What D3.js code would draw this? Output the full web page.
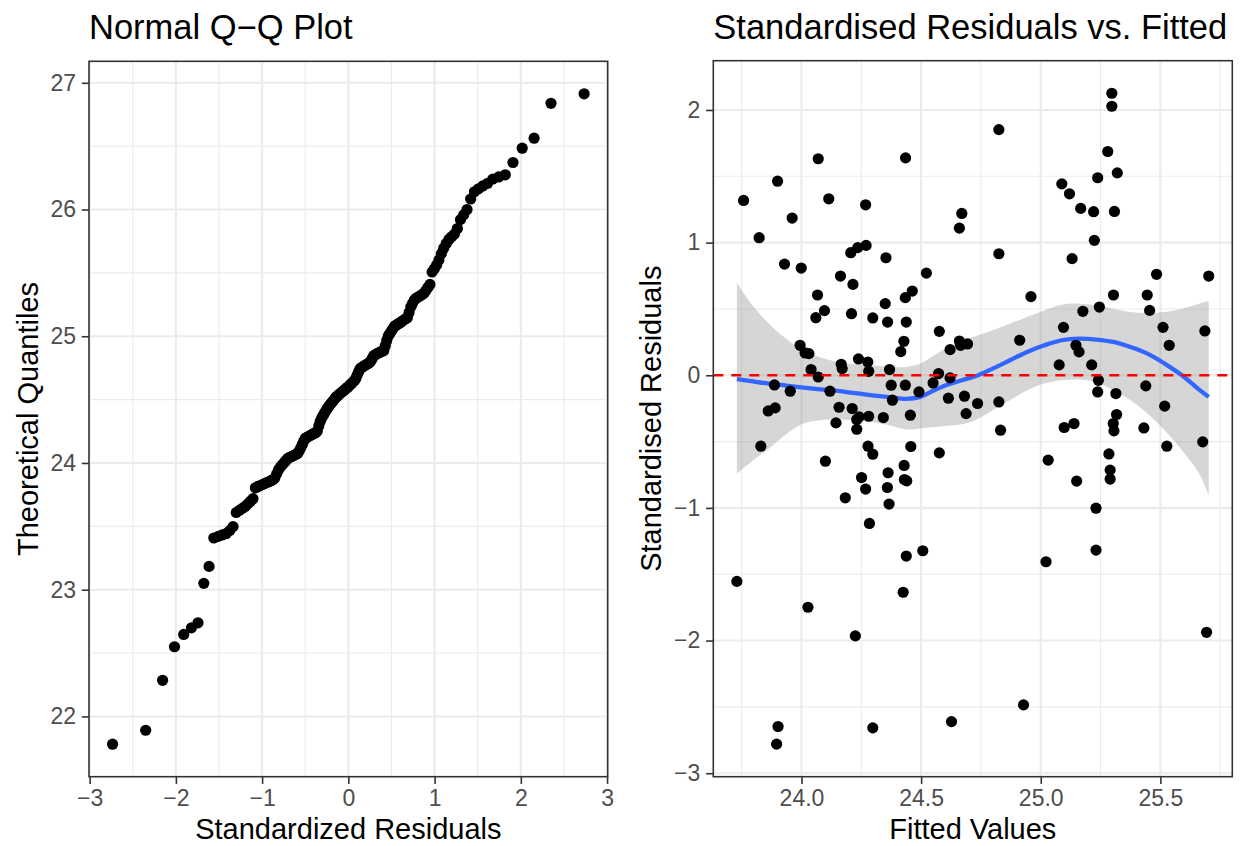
<!DOCTYPE html>
<html><head><meta charset="utf-8">
<script src="https://cdn.jsdelivr.net/npm/d3@7"></script>
<style>
html,body{margin:0;padding:0;background:#fff;}
svg{display:block;font-family:"Liberation Sans",Arial,Helvetica,sans-serif;}
</style>
</head><body>
<svg id="chart" width="1240" height="846"></svg>
<script>
// ---------- Data: Normal Q-Q plot ----------
const qqTheoretical = [-2.734,-2.350,-2.154,-2.016,-1.909,-1.820,-1.744,-1.676,-1.615,-1.560,
-1.509,-1.462,-1.418,-1.376,-1.337,-1.300,-1.264,-1.230,-1.197,-1.166,
-1.135,-1.106,-1.078,-1.050,-1.023,-0.997,-0.971,-0.946,-0.922,-0.898,
-0.875,-0.853,-0.830,-0.808,-0.787,-0.766,-0.745,-0.725,-0.704,-0.684,
-0.665,-0.645,-0.626,-0.607,-0.589,-0.570,-0.552,-0.534,-0.516,-0.498,
-0.480,-0.463,-0.445,-0.428,-0.411,-0.394,-0.377,-0.360,-0.343,-0.327,
-0.310,-0.294,-0.277,-0.261,-0.245,-0.229,-0.213,-0.197,-0.181,-0.165,
-0.149,-0.134,-0.118,-0.102,-0.086,-0.071,-0.055,-0.039,-0.024,-0.008,
0.008,0.024,0.039,0.055,0.071,0.086,0.102,0.118,0.134,0.149,
0.165,0.181,0.197,0.213,0.229,0.245,0.261,0.277,0.294,0.310,
0.327,0.343,0.360,0.377,0.394,0.411,0.428,0.445,0.463,0.480,
0.498,0.516,0.534,0.552,0.570,0.589,0.607,0.626,0.645,0.665,
0.684,0.704,0.725,0.745,0.766,0.787,0.808,0.830,0.853,0.875,
0.898,0.922,0.946,0.971,0.997,1.023,1.050,1.078,1.106,1.135,
1.166,1.197,1.230,1.264,1.300,1.337,1.376,1.418,1.462,1.509,
1.560,1.615,1.676,1.744,1.820,1.909,2.016,2.154,2.350,2.734];

const qqSample = [21.781,21.891,22.285,22.550,22.647,22.699,22.739,23.050,23.184,23.408,
23.421,23.432,23.442,23.466,23.498,23.609,23.626,23.642,23.657,23.677,
23.698,23.718,23.804,23.813,23.821,23.829,23.837,23.845,23.852,23.860,
23.867,23.882,23.916,23.948,23.969,23.986,24.002,24.018,24.035,24.043,
24.049,24.055,24.062,24.068,24.074,24.094,24.119,24.146,24.174,24.196,
24.202,24.208,24.216,24.222,24.228,24.235,24.241,24.252,24.292,24.327,
24.353,24.372,24.393,24.411,24.430,24.444,24.459,24.473,24.486,24.500,
24.515,24.525,24.534,24.544,24.553,24.561,24.570,24.580,24.589,24.598,
24.608,24.618,24.629,24.640,24.650,24.667,24.692,24.717,24.742,24.751,
24.758,24.765,24.772,24.778,24.785,24.792,24.805,24.825,24.847,24.852,
24.861,24.865,24.873,24.877,24.882,24.888,24.925,24.967,25.002,25.020,
25.039,25.058,25.078,25.087,25.094,25.103,25.111,25.120,25.129,25.138,
25.146,25.187,25.233,25.260,25.286,25.301,25.309,25.318,25.327,25.338,
25.360,25.384,25.409,25.507,25.532,25.561,25.602,25.652,25.694,25.732,
25.764,25.785,25.806,25.850,25.920,25.958,26.000,26.083,26.140,26.164,
26.186,26.207,26.241,26.257,26.274,26.371,26.484,26.563,26.838,26.913];

const qqXTicks = [-3,-2,-1,0,1,2,3];
const qqXTickLabels = ["\u22123","\u22122","\u22121","0","1","2","3"];
const qqYTicks = [22,23,24,25,26,27];
const qqYTickLabels = ["22","23","24","25","26","27"];

// ---------- Data: Standardised residuals vs fitted ----------
const fittedVals = [23.758,23.823,23.900,23.929,23.961,23.999,24.070,24.114,24.268,23.994,
24.015,24.031,24.040,24.067,24.060,24.096,24.163,24.206,24.235,24.270,
24.215,24.209,24.298,24.353,24.350,24.360,24.435,24.434,24.463,24.438,
24.428,24.415,24.522,24.238,24.277,24.166,24.170,24.281,24.368,24.576,
24.621,24.660,24.665,24.694,24.573,24.670,24.660,24.825,24.825,24.912,
24.959,25.088,25.120,25.167,25.221,25.224,25.131,25.238,25.280,25.297,
25.297,25.320,25.308,25.304,25.176,25.245,25.095,25.147,25.160,25.077,
25.213,25.445,25.484,25.455,25.511,25.537,25.702,25.686,
23.887,23.953,23.861,23.890,24.070,24.119,24.157,24.212,24.231,24.241,
24.281,24.342,24.144,24.231,24.375,24.434,24.380,24.491,24.550,24.621,
24.455,24.614,24.681,24.736,24.688,24.825,24.832,23.830,24.100,24.278,
24.298,24.251,24.268,24.183,24.362,24.359,24.366,24.429,24.430,24.440,
24.457,24.576,24.284,24.438,24.507,24.425,23.730,24.027,24.225,23.902,
23.896,24.298,24.627,24.928,25.022,25.231,25.231,25.031,25.150,25.098,
25.139,25.241,25.238,25.314,25.317,25.303,25.306,25.285,25.290,25.290,
25.439,25.518,25.431,25.527,25.677,25.693];

const stdResid = [1.318,1.037,1.463,0.838,1.185,0.808,1.632,1.330,1.285,0.226,
0.168,0.163,0.043,0.605,0.434,0.487,0.748,0.924,0.962,0.979,
0.685,0.464,0.432,0.886,0.540,0.401,1.639,0.585,0.635,0.401,
0.256,0.178,0.770,0.123,0.100,0.083,0.050,0.030,0.043,0.331,
0.193,0.258,0.226,0.236,0.013,1.220,1.109,1.852,0.916,0.264,
0.593,1.443,1.368,1.258,1.233,1.017,0.879,1.489,1.687,2.126,
2.028,1.526,1.235,0.605,0.482,0.514,0.361,0.226,0.176,0.078,
0.078,0.605,0.761,0.489,0.361,0.226,0.748,0.334,
-0.073,-0.120,-0.269,-0.246,-0.013,-0.120,-0.241,-0.251,-0.334,-0.314,
-0.309,-0.319,-0.359,-0.407,-0.075,-0.075,-0.188,-0.126,-0.058,-0.020,
-0.301,-0.173,-0.158,-0.213,-0.289,-0.201,-0.414,-0.535,-0.648,-0.535,
-0.595,-0.771,-0.858,-0.924,-0.735,-0.846,-0.971,-0.680,-0.786,-0.796,
-0.537,-0.585,-1.117,-1.363,-1.323,-1.636,-1.554,-1.749,-1.965,-2.648,
-2.781,-2.658,-2.611,-2.485,-1.406,-1.318,-1.002,-0.640,-0.798,-0.394,
-0.364,-0.038,-0.126,-0.138,-0.296,-0.364,-0.419,-0.593,-0.715,-0.783,
-0.080,-0.233,-0.397,-0.535,-0.502,-1.938];

const smoothX = [23.730,23.790,23.864,23.936,24.008,24.080,24.152,24.224,24.296,24.368,
24.440,24.497,24.555,24.612,24.670,24.727,24.799,24.871,24.943,25.015,
25.087,25.159,25.231,25.303,25.375,25.446,25.518,25.590,25.662,25.702];
const smoothFit = [-0.030,-0.045,-0.063,-0.078,-0.093,-0.106,-0.118,-0.135,-0.151,-0.165,
-0.178,-0.163,-0.113,-0.070,-0.038,-0.008,0.050,0.113,0.176,0.226,
0.264,0.276,0.269,0.251,0.213,0.163,0.088,0.000,-0.108,-0.163];
const smoothUpper = [0.698,0.540,0.389,0.276,0.188,0.133,0.100,0.083,0.073,0.063,
0.063,0.088,0.151,0.213,0.264,0.294,0.339,0.389,0.439,0.489,
0.532,0.540,0.527,0.502,0.477,0.469,0.477,0.502,0.540,0.560];
const smoothLower = [-0.740,-0.653,-0.552,-0.444,-0.364,-0.339,-0.334,-0.339,-0.352,-0.377,
-0.409,-0.401,-0.390,-0.380,-0.369,-0.339,-0.264,-0.188,-0.113,-0.063,
-0.038,-0.032,-0.050,-0.113,-0.188,-0.289,-0.414,-0.565,-0.740,-0.904];

const rvXTicks = [24.0,24.5,25.0,25.5];
const rvXTickLabels = ["24.0","24.5","25.0","25.5"];
const rvYTicks = [-3,-2,-1,0,1,2];
const rvYTickLabels = ["\u22123","\u22122","\u22121","0","1","2"];

// ---------- Drawing ----------
const svg = d3.select("#chart");
svg.append("rect").attr("width",1240).attr("height",846).attr("fill","#ffffff");

const GRID = "#EBEBEB", BORDER = "#333333", TICKTXT = "#4D4D4D";
function expand(ext){ const r = ext[1]-ext[0]; return [ext[0]-0.05*r, ext[1]+0.05*r]; }

function minorsOf(ticks, domain){
  const out = [];
  const step = ticks[1]-ticks[0];
  const all = [ticks[0]-step].concat(ticks, [ticks[ticks.length-1]+step]);
  for (let i=0;i<all.length-1;i++){
    const m = (all[i]+all[i+1])/2;
    if (m>=domain[0] && m<=domain[1]) out.push(m);
  }
  return out;
}

function drawPanel(p){
  const g = svg.append("g");
  const {x,y,box} = p;
  g.append("rect").attr("x",box.x0).attr("y",box.y0)
    .attr("width",box.x1-box.x0).attr("height",box.y1-box.y0).attr("fill","#fff");
  const xMin = minorsOf(p.xTicks, x.domain()), yMin = minorsOf(p.yTicks, y.domain());
  const grid = g.append("g");
  grid.selectAll(".vmin").data(xMin).join("line")
    .attr("x1",d=>x(d)).attr("x2",d=>x(d)).attr("y1",box.y0).attr("y2",box.y1)
    .attr("stroke",GRID).attr("stroke-width",1.1);
  grid.selectAll(".hmin").data(yMin).join("line")
    .attr("y1",d=>y(d)).attr("y2",d=>y(d)).attr("x1",box.x0).attr("x2",box.x1)
    .attr("stroke",GRID).attr("stroke-width",1.1);
  grid.selectAll(".vmaj").data(p.xTicks).join("line")
    .attr("x1",d=>x(d)).attr("x2",d=>x(d)).attr("y1",box.y0).attr("y2",box.y1)
    .attr("stroke",GRID).attr("stroke-width",2.1);
  grid.selectAll(".hmaj").data(p.yTicks).join("line")
    .attr("y1",d=>y(d)).attr("y2",d=>y(d)).attr("x1",box.x0).attr("x2",box.x1)
    .attr("stroke",GRID).attr("stroke-width",2.1);

  const content = g.append("g");
  p.drawContent(content);

  g.append("rect").attr("x",box.x0).attr("y",box.y0)
    .attr("width",box.x1-box.x0).attr("height",box.y1-box.y0)
    .attr("fill","none").attr("stroke",BORDER).attr("stroke-width",1.6);

  const xa = g.append("g").attr("transform",`translate(0,${box.y1})`)
    .call(d3.axisBottom(x).tickValues(p.xTicks).tickFormat((d,i)=>p.xLabels[i]).tickSize(7.2).tickPadding(5.8));
  const ya = g.append("g").attr("transform",`translate(${box.x0},0)`)
    .call(d3.axisLeft(y).tickValues(p.yTicks).tickFormat((d,i)=>p.yLabels[i]).tickSize(7.2).tickPadding(5.8));
  [xa,ya].forEach(a=>{
    a.select(".domain").remove();
    a.selectAll(".tick line").attr("stroke",BORDER).attr("stroke-width",1.6);
    a.selectAll(".tick text").attr("fill",TICKTXT).attr("font-size",23)
      .attr("font-family","'Liberation Sans',Arial,Helvetica,sans-serif");
  });

  svg.append("text").attr("x",box.x0).attr("y",39).attr("font-size",34.5)
    .attr("fill","#000").text(p.title);
  svg.append("text").attr("x",(box.x0+box.x1)/2).attr("y",839).attr("font-size",29)
    .attr("text-anchor","middle").attr("fill","#000").text(p.xTitle);
  svg.append("text").attr("transform",`translate(${p.yTitleX},${(box.y0+box.y1)/2}) rotate(-90)`)
    .attr("font-size",29).attr("text-anchor","middle").attr("fill","#000").text(p.yTitle);
}

// Left panel: Normal Q-Q
const boxL = {x0:89, x1:607.7, y0:61.3, y1:776.7};
const xL = d3.scaleLinear().domain(expand(d3.extent(qqTheoretical))).range([boxL.x0, boxL.x1]);
const yL = d3.scaleLinear().domain(expand(d3.extent(qqSample))).range([boxL.y1, boxL.y0]);
drawPanel({
  box: boxL, x: xL, y: yL,
  xTicks: qqXTicks, xLabels: qqXTickLabels, yTicks: qqYTicks, yLabels: qqYTickLabels,
  title: "Normal Q\u2212Q Plot", xTitle: "Standardized Residuals", yTitle: "Theoretical Quantiles",
  yTitleX: 37.5,
  drawContent: (c)=>{
    c.selectAll("circle").data(qqSample).join("circle")
      .attr("cx",(d,i)=>xL(qqTheoretical[i])).attr("cy",d=>yL(d))
      .attr("r",5.6).attr("fill","#000");
  }
});

// Right panel: Standardised Residuals vs Fitted
const boxR = {x0:713.3, x1:1232.3, y0:60.7, y1:776.7};
const xR = d3.scaleLinear().domain(expand(d3.extent(fittedVals.concat(smoothX)))).range([boxR.x0, boxR.x1]);
const yR = d3.scaleLinear().domain(expand(d3.extent(stdResid.concat(smoothLower, smoothUpper)))).range([boxR.y1, boxR.y0]);
drawPanel({
  box: boxR, x: xR, y: yR,
  xTicks: rvXTicks, xLabels: rvXTickLabels, yTicks: rvYTicks, yLabels: rvYTickLabels,
  title: "Standardised Residuals vs. Fitted", xTitle: "Fitted Values", yTitle: "Standardised Residuals",
  yTitleX: 661,
  drawContent: (c)=>{
    const idx = d3.range(smoothX.length);
    const area = d3.area().curve(d3.curveCatmullRom)
      .x(i=>xR(smoothX[i])).y0(i=>yR(smoothLower[i])).y1(i=>yR(smoothUpper[i]));
    c.append("path").attr("d",area(idx)).attr("fill","#999999").attr("fill-opacity",0.4);
    const line = d3.line().curve(d3.curveCatmullRom)
      .x(i=>xR(smoothX[i])).y(i=>yR(smoothFit[i]));
    c.append("path").attr("d",line(idx)).attr("fill","none")
      .attr("stroke","#3366FF").attr("stroke-width",4.3).attr("stroke-linecap","butt");
    c.selectAll("circle").data(stdResid).join("circle")
      .attr("cx",(d,i)=>xR(fittedVals[i])).attr("cy",d=>yR(d))
      .attr("r",5.6).attr("fill","#000");
    c.append("line").attr("x1",boxR.x0).attr("x2",boxR.x1).attr("y1",yR(0)).attr("y2",yR(0))
      .attr("stroke","#FF0000").attr("stroke-width",2.6).attr("stroke-dasharray","10,8");
  }
});
</script>
</body></html>
